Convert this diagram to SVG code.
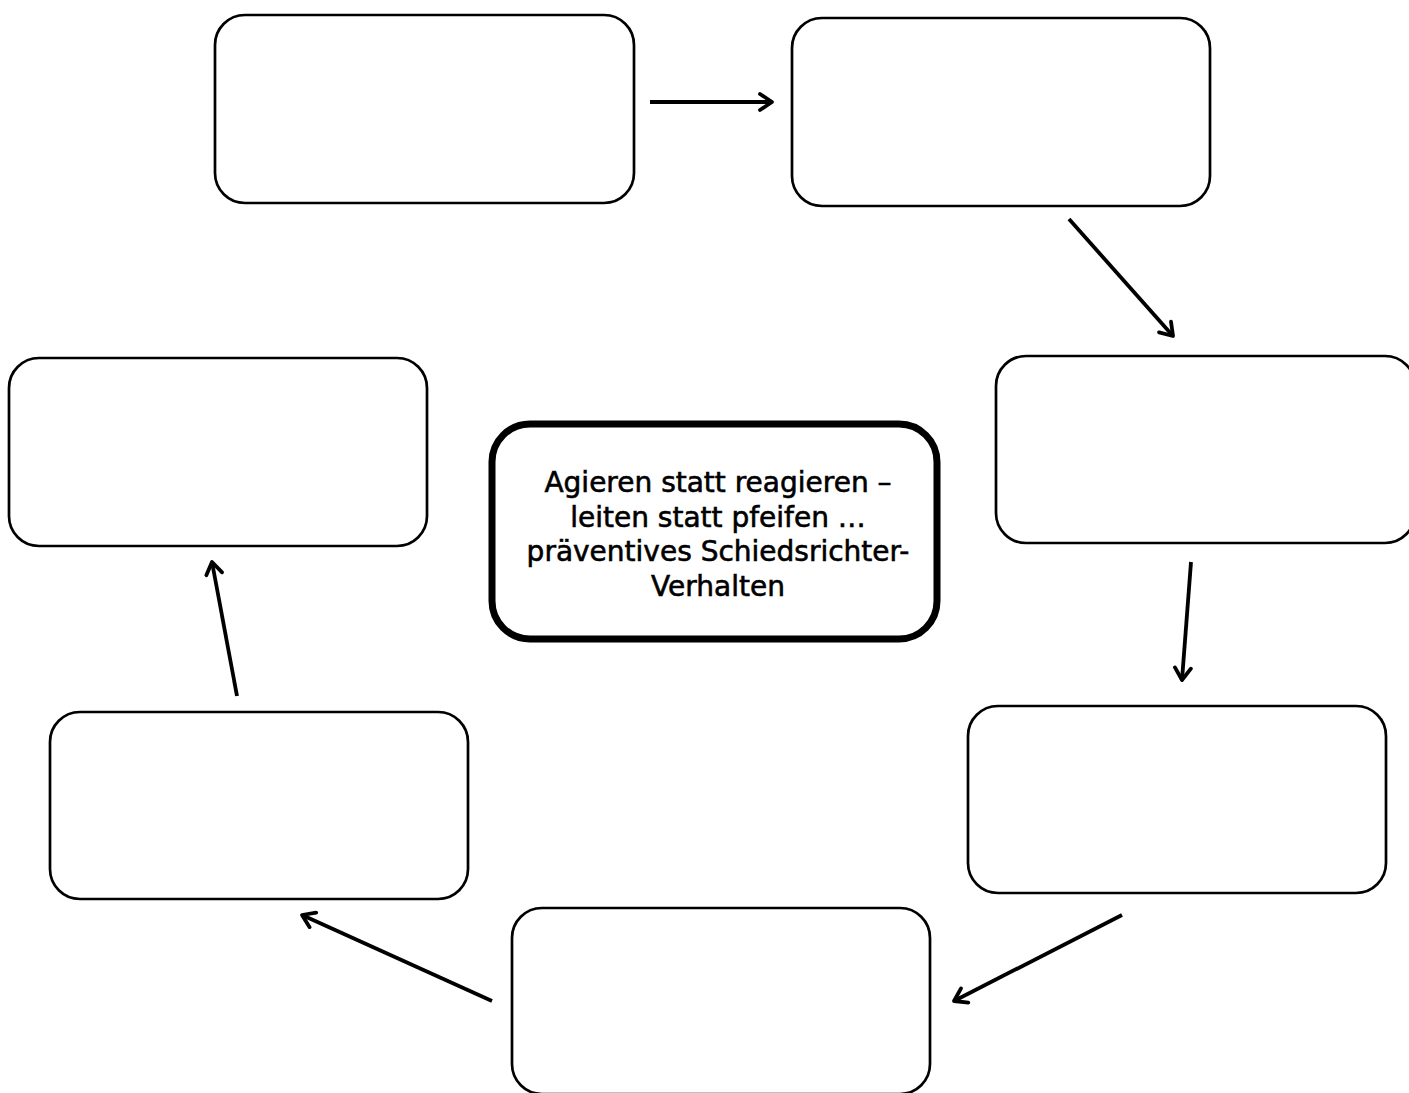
<svg xmlns="http://www.w3.org/2000/svg" width="1409" height="1093" viewBox="0 0 1409 1093">
<style>
.box{fill:#fff;stroke:#000;stroke-width:2.7}
.center{fill:#fff;stroke:#000;stroke-width:7}
.arr{fill:none;stroke:#000;stroke-width:3.8;marker-end:url(#ah)}
.lbl{font-family:"DejaVu Sans","Liberation Sans",sans-serif;font-size:28px;fill:#000;stroke:#000;stroke-width:0.6;text-anchor:middle}
</style>
<defs>
<marker id="ah" viewBox="0 0 20 20" refX="17" refY="10" markerWidth="20" markerHeight="20" markerUnits="userSpaceOnUse" orient="auto">
<path d="M5,2 L17,10 L5,18" fill="none" stroke="#000" stroke-width="3.8" stroke-linecap="round" stroke-linejoin="round"/>
</marker>
</defs>
<rect width="1409" height="1093" fill="#fff"/>
<g id="connectors">
<line class="arr" x1="650" y1="102" x2="772" y2="102"/>
<line class="arr" x1="1069" y1="219" x2="1173" y2="336"/>
<line class="arr" x1="1191" y1="562" x2="1182" y2="680"/>
<line class="arr" x1="1122" y1="915" x2="954" y2="1001"/>
<line class="arr" x1="492" y1="1001" x2="302" y2="915"/>
<line class="arr" x1="237" y1="696" x2="212" y2="562"/>
</g>
<g id="node1"><rect class="box" x="215" y="15" width="419" height="188" rx="30"/></g>
<g id="node2"><rect class="box" x="792" y="18" width="418" height="188" rx="30"/></g>
<g id="node3"><rect class="box" x="996" y="356" width="419" height="187" rx="30"/></g>
<g id="node4"><rect class="box" x="968" y="706" width="418" height="187" rx="30"/></g>
<g id="node5"><rect class="box" x="512" y="908" width="418" height="186" rx="30"/></g>
<g id="node6"><rect class="box" x="50" y="712" width="418" height="187" rx="30"/></g>
<g id="node7"><rect class="box" x="9" y="358" width="418" height="188" rx="30"/></g>
<g id="center">
<rect class="center" x="492" y="424" width="445" height="215" rx="38"/>
<text class="lbl"><tspan x="718" y="492">Agieren statt reagieren –</tspan><tspan x="718" y="527">leiten statt pfeifen …</tspan><tspan x="718" y="561">präventives Schiedsrichter-</tspan><tspan x="718" y="596">Verhalten</tspan></text>
</g>
</svg>
